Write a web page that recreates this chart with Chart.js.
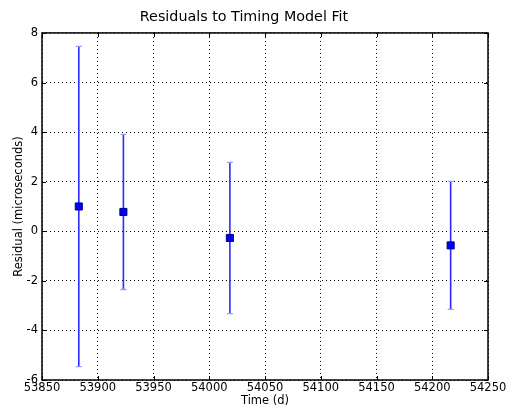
<!DOCTYPE html>
<html>
<head>
<meta charset="utf-8">
<script src="https://cdn.jsdelivr.net/npm/chart.js@4/dist/chart.umd.min.js"></script>
<style>
  html, body { margin: 0; padding: 0; background: #fff; }
  #wrap { width: 508px; height: 406px; }
</style>
</head>
<body>
<div id="wrap"><canvas id="graph1" width="508" height="406"></canvas></div>
<script>
// data
const mjd = [53883, 53923, 54018.5, 54216.5];
const residual = [1.0, 0.78, -0.27, -0.57];
const errUs = [6.46, 3.13, 3.05, 2.58];
const xTicks = [53850, 53900, 53950, 54000, 54050, 54100, 54150, 54200, 54250];
const yTicks = [-6, -4, -2, 0, 2, 4, 6, 8];

const font = 'DejaVu Sans';

// error bars, drawn through the chart's scales
const errorBars = {
  id: 'errorBars',
  beforeDatasetsDraw(chart) {
    const { ctx, scales: { x, y } } = chart;
    ctx.save();
    ctx.setLineDash([]);
    mjd.forEach((t, i) => {
      const px = x.getPixelForValue(t);
      const top = y.getPixelForValue(residual[i] + errUs[i]);
      const bot = y.getPixelForValue(residual[i] - errUs[i]);
      ctx.lineWidth = 1.6;
      ctx.strokeStyle = '#2a2aff';
      ctx.beginPath();
      ctx.moveTo(px, top);
      ctx.lineTo(px, bot);
      ctx.stroke();
      ctx.lineWidth = 1.3;
      ctx.strokeStyle = '#9a9aff';
      ctx.beginPath();
      ctx.moveTo(px - 3, top);
      ctx.lineTo(px + 3, top);
      ctx.moveTo(px - 3, bot);
      ctx.lineTo(px + 3, bot);
      ctx.stroke();
    });
    ctx.restore();
  }
};

// black frame + inward tick marks like the original
const frame = {
  id: 'frame',
  afterDraw(chart) {
    const { ctx, chartArea: a, scales: { x, y } } = chart;
    ctx.save();
    ctx.strokeStyle = '#000';
    ctx.lineWidth = 1;
    ctx.beginPath();
    xTicks.forEach(v => {
      const px = Math.round(x.getPixelForValue(v)) + 0.5;
      ctx.moveTo(px, a.bottom); ctx.lineTo(px, a.bottom - 4);
      ctx.moveTo(px, a.top); ctx.lineTo(px, a.top + 4);
    });
    yTicks.forEach(v => {
      const py = Math.round(y.getPixelForValue(v)) + 0.5;
      ctx.moveTo(a.left, py); ctx.lineTo(a.left + 4, py);
      ctx.moveTo(a.right, py); ctx.lineTo(a.right - 4, py);
    });
    ctx.stroke();
    ctx.lineWidth = 1.5;
    ctx.strokeRect(a.left, a.top, a.right - a.left, a.bottom - a.top);
    ctx.restore();
  }
};

const ctx = document.getElementById('graph1');
new Chart(ctx, {
  type: 'scatter',
  data: {
    datasets: [{
      label: 'residuals',
      data: mjd.map((t, i) => ({ x: t, y: residual[i] })),
      pointStyle: 'rect',
      pointRadius: 5,
      backgroundColor: '#0000ff',
      borderColor: '#00007a',
      borderWidth: 1
    }]
  },
  options: {
    responsive: false,
    animation: false,
    layout: { padding: { left: 0, right: 20, top: 0, bottom: 0 } },
    plugins: {
      legend: { display: false },
      tooltip: { enabled: false },
      title: {
        display: true,
        text: 'Residuals to Timing Model Fit',
        color: '#000',
        font: { family: font, size: 14.3, weight: 'normal', lineHeight: 1.2 },
        padding: { top: 9, bottom: 6.8 }
      }
    },
    scales: {
      x: {
        type: 'linear',
        min: 53850,
        max: 54250,
        afterFit(s) { s.height = 26; },
        afterBuildTicks(s) { s.ticks = xTicks.map(v => ({ value: v })); },
        ticks: {
          padding: 1,
          color: '#000',
          maxRotation: 0,
          font: { family: font, size: 11.5 },
          callback: v => String(v)
        },
        grid: { color: '#000', lineWidth: 1, drawTicks: false },
        border: { display: false, dash: [1, 3] },
        title: {
          display: true,
          text: 'Time (d)',
          color: '#000',
          font: { family: font, size: 11.5, lineHeight: 0.8 },
          padding: 0
        }
      },
      y: {
        min: -6,
        max: 8,
        afterFit(s) { s.width = 42; },
        afterBuildTicks(s) { s.ticks = yTicks.map(v => ({ value: v })); },
        ticks: {
          padding: 4,
          color: '#000',
          font: { family: font, size: 11.5 },
          callback: v => String(v)
        },
        grid: { color: '#000', lineWidth: 1, drawTicks: false },
        border: { display: false, dash: [1, 3] },
        title: {
          display: true,
          text: 'Residual (microseconds)',
          color: '#000',
          font: { family: font, size: 11.5, lineHeight: 1.2 },
          padding: { top: 12.5, bottom: 0 }
        }
      }
    }
  },
  plugins: [errorBars, frame]
});
</script>
</body>
</html>
